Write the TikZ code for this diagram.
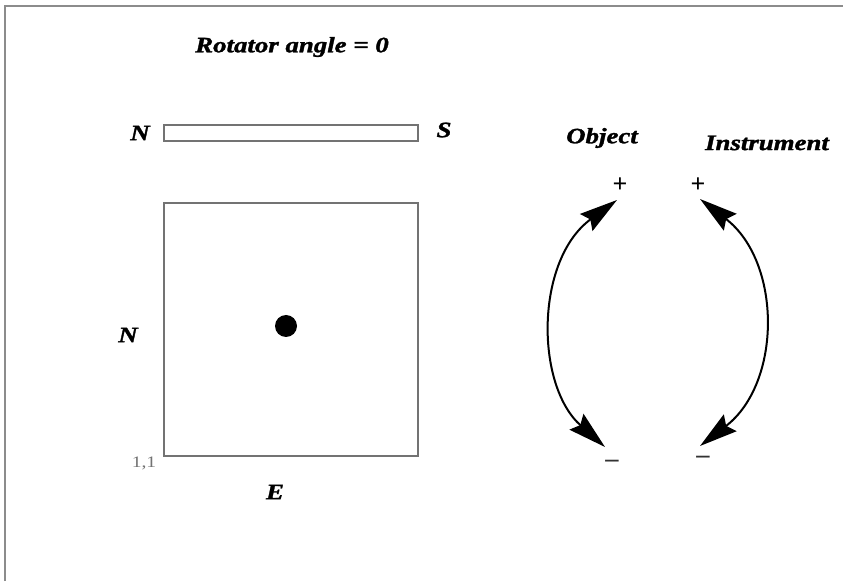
\documentclass[tikz,border=0pt]{standalone}
\usepackage{fontspec}
\setmainfont{Liberation Serif}
\newfontface\heavyfont{Liberation Serif Bold Italic}[FakeBold=1.3]
\usetikzlibrary{arrows.meta}
\tikzset{
  lbl/.style={inner sep=0pt, font=\fontsize{22}{24}\selectfont\heavyfont},
  frameline/.style={draw=black!45, line width=1.6pt},
  boxline/.style={draw=black!55, line width=1.5pt},
  arc/.style={line width=2pt, {Stealth[length=38pt,width=21pt,inset=5pt]}-{Stealth[length=38pt,width=21pt,inset=5pt]}},
  sign/.style={inner sep=0pt, font=\fontsize{26}{28}\selectfont\bfseries},
  minus/.style={inner sep=0pt, text=black!80, font=\fontsize{24}{26}\selectfont}
}
\newcommand{\wide}[1]{\scalebox{1.22}[1]{#1}}
\begin{document}
\begin{tikzpicture}[x=1pt,y=1pt]
\useasboundingbox (0,0) rectangle (843,581);
\fill[white] (0,0) rectangle (843,581);
% frame
\coordinate (fa) at (5,0);
\coordinate (fb) at (5,575);
\coordinate (fc) at (843,575);
\draw[frameline] (fa) -- (fb) -- (fc);
% title
\node[lbl] (title) at (292,534) {\wide{Rotator angle = 0}};
% slit
\node[boxline, minimum width=254pt, minimum height=16pt, inner sep=0pt] (slit) at (291,448) {};
\node[lbl] (nslit) at (140,448) {\wide{N}};
\node[lbl] (sslit) at (444,451) {\wide{S}};
% square field
\node[boxline, minimum width=254pt, minimum height=253pt, inner sep=0pt] (field) at (291,251.5) {};
\fill (286,255) circle (11pt);
\node[lbl] (nfield) at (128,246) {\wide{N}};
\node[lbl] (efield) at (275,89) {\wide{E}};
\node[inner sep=0pt, text=black!55, font=\fontsize{16}{17}\selectfont] (origin) at (144,118) {\wide{1,1}};
% rotation labels
\node[lbl] (obj) at (602,443) {\wide{Object}};
\node[lbl] (ins) at (767,438) {\wide{Instrument}};
\node[sign] (op) at (620,396) {+};
\node[sign] (ip) at (698,396) {+};
\node[minus] (om) at (612,116) {\scalebox{1.1}[1.5]{\textendash}};
\node[minus] (im) at (703,120) {\scalebox{1.1}[1.5]{\textendash}};
% arcs
\coordinate (oa) at (617,381);
\coordinate (ob) at (605,134);
\coordinate (ia) at (700,382);
\coordinate (ib) at (700,135);
\draw[arc] (oa) .. controls (535,321) and (535,196) .. (ob);
\draw[arc] (ia) .. controls (782,319) and (782,198) .. (ib);
\end{tikzpicture}
\end{document}
